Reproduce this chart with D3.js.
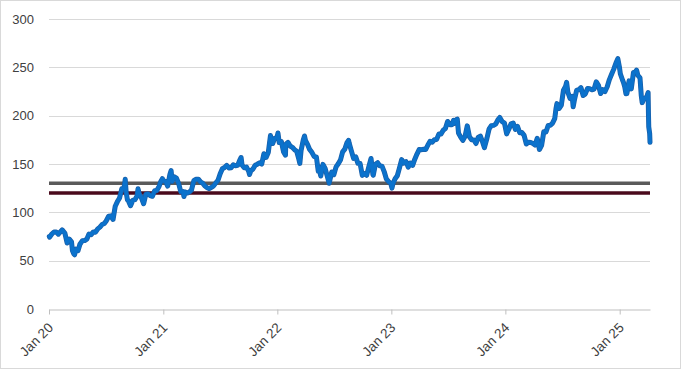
<!DOCTYPE html>
<html><head><meta charset="utf-8">
<script src="https://cdn.jsdelivr.net/npm/d3@7"></script>
<style>body{margin:0;background:#fff}svg{display:block}</style>
</head><body><div id="chart"></div>
<script>
const dates = [
"2020-01-02","2020-01-03","2020-01-10","2020-01-17","2020-01-24","2020-01-31","2020-02-07","2020-02-12","2020-02-14","2020-02-21","2020-02-28","2020-03-06","2020-03-13","2020-03-16","2020-03-20","2020-03-23","2020-03-27","2020-04-03","2020-04-09","2020-04-17","2020-04-24","2020-05-01","2020-05-08","2020-05-15","2020-05-22","2020-05-29","2020-06-05","2020-06-12","2020-06-19","2020-06-26","2020-07-02","2020-07-10","2020-07-17","2020-07-24","2020-07-31","2020-08-07","2020-08-14","2020-08-21","2020-08-28","2020-09-01","2020-09-04","2020-09-08","2020-09-11","2020-09-18","2020-09-25","2020-10-02","2020-10-09","2020-10-12","2020-10-16","2020-10-23","2020-10-30","2020-11-06","2020-11-13","2020-11-20","2020-11-27","2020-12-04","2020-12-11","2020-12-18","2020-12-24","2020-12-29","2020-12-31",
"2021-01-08","2021-01-15","2021-01-22","2021-01-26","2021-01-29","2021-02-05","2021-02-12","2021-02-19","2021-02-26","2021-03-05","2021-03-08","2021-03-12","2021-03-19","2021-03-26","2021-04-01","2021-04-09","2021-04-16","2021-04-23","2021-04-30","2021-05-07","2021-05-14","2021-05-21","2021-05-28","2021-06-04","2021-06-11","2021-06-18","2021-06-25","2021-07-02","2021-07-09","2021-07-16","2021-07-23","2021-07-30","2021-08-06","2021-08-13","2021-08-20","2021-08-27","2021-09-03","2021-09-07","2021-09-10","2021-09-17","2021-09-24","2021-10-01","2021-10-04","2021-10-08","2021-10-15","2021-10-22","2021-10-29","2021-11-05","2021-11-12","2021-11-19","2021-11-26","2021-12-03","2021-12-10","2021-12-13","2021-12-17","2021-12-23","2021-12-31",
"2022-01-03","2022-01-07","2022-01-14","2022-01-21","2022-01-27","2022-01-28","2022-02-04","2022-02-11","2022-02-18","2022-02-25","2022-03-04","2022-03-11","2022-03-14","2022-03-18","2022-03-25","2022-03-29","2022-04-01","2022-04-08","2022-04-14","2022-04-22","2022-04-29","2022-05-06","2022-05-12","2022-05-13","2022-05-20","2022-05-27","2022-06-03","2022-06-10","2022-06-16","2022-06-17","2022-06-24","2022-07-01","2022-07-08","2022-07-15","2022-07-22","2022-07-29","2022-08-05","2022-08-12","2022-08-17","2022-08-19","2022-08-26","2022-09-02","2022-09-09","2022-09-16","2022-09-23","2022-09-30","2022-10-07","2022-10-14","2022-10-21","2022-10-28","2022-11-03","2022-11-04","2022-11-11","2022-11-18","2022-11-25","2022-12-02","2022-12-09","2022-12-16","2022-12-23","2022-12-30",
"2023-01-03","2023-01-06","2023-01-13","2023-01-20","2023-01-27","2023-02-03","2023-02-10","2023-02-17","2023-02-24","2023-03-03","2023-03-10","2023-03-17","2023-03-24","2023-03-31","2023-04-06","2023-04-14","2023-04-21","2023-04-28","2023-05-05","2023-05-12","2023-05-19","2023-05-26","2023-06-02","2023-06-09","2023-06-16","2023-06-23","2023-06-30","2023-07-07","2023-07-14","2023-07-19","2023-07-21","2023-07-28","2023-07-31","2023-08-04","2023-08-11","2023-08-18","2023-08-25","2023-09-01","2023-09-08","2023-09-15","2023-09-22","2023-09-29","2023-10-06","2023-10-13","2023-10-20","2023-10-26","2023-10-27","2023-11-03","2023-11-10","2023-11-17","2023-11-24","2023-12-01","2023-12-08","2023-12-14","2023-12-15","2023-12-22","2023-12-29",
"2024-01-05","2024-01-12","2024-01-19","2024-01-26","2024-02-02","2024-02-09","2024-02-16","2024-02-23","2024-03-01","2024-03-08","2024-03-15","2024-03-22","2024-03-28","2024-04-05","2024-04-12","2024-04-19","2024-04-26","2024-05-03","2024-05-10","2024-05-17","2024-05-24","2024-05-31","2024-06-07","2024-06-11","2024-06-14","2024-06-21","2024-06-28","2024-07-05","2024-07-12","2024-07-15","2024-07-19","2024-07-26","2024-08-02","2024-08-05","2024-08-09","2024-08-16","2024-08-23","2024-08-30","2024-09-06","2024-09-13","2024-09-20","2024-09-27","2024-10-04","2024-10-11","2024-10-18","2024-10-25","2024-11-01","2024-11-08","2024-11-15","2024-11-22","2024-11-29","2024-12-06","2024-12-13","2024-12-20","2024-12-26","2024-12-31",
"2025-01-03","2025-01-10","2025-01-13","2025-01-17","2025-01-21","2025-01-24","2025-01-31","2025-02-07","2025-02-14","2025-02-21","2025-02-24","2025-02-28","2025-03-07","2025-03-11","2025-03-14","2025-03-21","2025-03-28","2025-03-31","2025-04-02","2025-04-03","2025-04-04","2025-04-07","2025-04-08"
];
const values = [
75.09,74.36,77.58,79.68,79.58,77.38,80.01,81.80,81.24,78.26,68.34,72.26,69.49,60.55,57.31,56.09,61.94,60.35,66.99,70.70,70.74,72.27,77.53,76.93,79.72,79.49,82.88,84.70,87.43,88.41,91.03,95.92,96.33,92.62,106.26,111.11,114.91,124.37,124.81,134.18,120.96,112.82,112.00,106.84,112.28,113.02,116.97,124.40,119.02,115.04,108.86,118.69,119.26,117.34,116.59,122.25,122.41,126.66,131.97,134.87,132.69,
132.05,127.14,139.07,143.16,131.96,136.76,135.37,129.87,121.26,121.42,116.36,121.03,119.99,121.21,123.00,133.00,134.16,134.32,131.46,130.21,127.45,125.43,124.61,125.89,127.35,130.46,133.11,139.96,145.11,146.39,148.56,145.86,146.14,149.10,148.19,148.60,154.30,156.69,148.97,146.06,146.92,142.65,139.14,142.90,144.84,148.69,149.80,151.28,149.99,160.55,156.81,161.84,179.45,175.74,171.14,176.28,177.57,
182.01,172.17,173.07,162.41,159.22,170.33,172.39,168.64,167.30,164.85,163.17,154.73,150.62,163.98,174.72,178.96,174.31,170.09,165.29,161.79,157.65,157.28,142.56,147.11,137.59,149.64,145.38,137.13,130.06,131.56,141.66,138.93,147.04,150.17,154.09,162.51,165.35,172.10,174.55,171.52,163.62,155.81,157.37,150.70,150.43,138.20,140.09,138.38,147.27,155.74,138.88,138.38,149.70,151.29,148.11,147.81,142.16,134.51,131.86,129.93,
125.07,129.62,134.76,137.87,145.93,154.50,151.01,152.55,146.71,151.03,148.50,155.00,160.25,164.90,164.66,165.21,165.02,169.68,173.57,172.57,175.16,175.43,180.95,180.96,184.92,186.68,193.97,190.68,190.69,195.10,191.94,195.83,196.45,181.99,177.79,174.49,178.61,189.46,178.18,175.01,174.79,171.21,177.49,178.85,172.88,166.89,168.22,176.65,186.40,189.69,189.97,191.24,195.71,198.11,197.57,193.60,192.53,
181.18,185.92,191.56,192.42,185.85,188.85,182.31,182.52,179.66,170.73,172.62,172.28,171.48,169.58,176.55,165.00,169.30,183.38,183.05,189.87,189.98,192.25,196.89,207.15,212.49,207.49,210.62,226.34,230.54,234.40,224.31,217.96,219.86,209.27,216.24,226.05,226.84,229.00,220.82,222.50,228.20,227.79,226.80,227.55,235.00,231.41,222.91,226.96,225.00,229.87,237.33,242.84,248.13,254.49,259.02,250.42,
243.36,236.85,234.40,229.98,222.64,222.78,236.00,227.63,244.60,245.55,247.10,241.84,239.07,220.84,213.49,218.27,217.90,222.13,223.89,203.19,188.38,181.46,172.42
];
const yTicks = [0, 50, 100, 150, 200, 250, 300];
const xTickDates = ["2020-01-01","2021-01-01","2022-01-01","2023-01-01","2024-01-01","2025-01-01"];
const xTickLabels = ["Jan 20","Jan 21","Jan 22","Jan 23","Jan 24","Jan 25"];
const refLevels = [130, 120];
const refColors = ["#5a5a5a", "#4a0a1c"];

const W = 681, H = 369;
const parse = d3.timeParse("%Y-%m-%d");
const data = dates.map((d, i) => ({date: parse(d), value: values[i]}));
const font = "'Liberation Sans', Arial, sans-serif";

const svg = d3.select("#chart").append("svg").attr("width", W).attr("height", H);
svg.append("rect").attr("x", 0.5).attr("y", 0.5).attr("width", W - 1).attr("height", H - 1)
  .attr("fill", "#fff").attr("stroke", "#d9d9d9");

const x = d3.scaleTime().domain([parse("2020-01-01"), parse("2025-04-08")]).range([49, 650]);
const y = d3.scaleLinear().domain([0, 300]).range([309, 19]);

// gridlines
svg.append("g").selectAll("line").data(yTicks.filter(t => t > 0)).join("line")
  .attr("x1", 49).attr("x2", 650)
  .attr("y1", d => Math.round(y(d)) + 0.5).attr("y2", d => Math.round(y(d)) + 0.5)
  .attr("stroke", "#d9d9d9").attr("stroke-width", 1);

// y labels
svg.append("g").selectAll("text").data(yTicks).join("text")
  .attr("x", 34).attr("y", d => y(d)).attr("dy", "0.35em")
  .attr("text-anchor", "end").attr("font-family", font).attr("font-size", 13)
  .attr("fill", "#404040").text(d => d);

// x axis
const xAxis = d3.axisBottom(x)
  .tickValues(xTickDates.map(parse))
  .tickFormat((d, i) => xTickLabels[i])
  .tickSize(5).tickSizeOuter(0);
const gx = svg.append("g").attr("transform", `translate(0,${Math.round(y(0)) + 0.5})`).call(xAxis);
gx.select(".domain").attr("stroke", "#bfbfbf");
gx.selectAll(".tick line").attr("stroke", "#bfbfbf");
gx.selectAll(".tick text")
  .attr("font-family", font).attr("font-size", 13.5).attr("fill", "#404040")
  .attr("text-anchor", "end").attr("x", 0).attr("y", 0).attr("dx", 0).attr("dy", 0)
  .attr("transform", "translate(4.5,19) rotate(-45)");

// reference lines
svg.append("g").selectAll("line").data(refLevels).join("line")
  .attr("x1", 49).attr("x2", 650)
  .attr("y1", d => y(d)).attr("y2", d => y(d))
  .attr("stroke", (d, i) => refColors[i]).attr("stroke-width", 3.5);

// price line
const line = d3.line().x(d => x(d.date)).y(d => y(d.value)).curve(d3.curveLinear);
svg.append("path").datum(data).attr("d", line)
  .attr("fill", "none").attr("stroke", "#1a5fa8").attr("stroke-width", 5)
  .attr("stroke-linejoin", "round").attr("stroke-linecap", "round");
svg.append("path").datum(data).attr("d", line)
  .attr("fill", "none").attr("stroke", "#0b72cc").attr("stroke-width", 3.6)
  .attr("stroke-linejoin", "round").attr("stroke-linecap", "round");
</script></body></html>
